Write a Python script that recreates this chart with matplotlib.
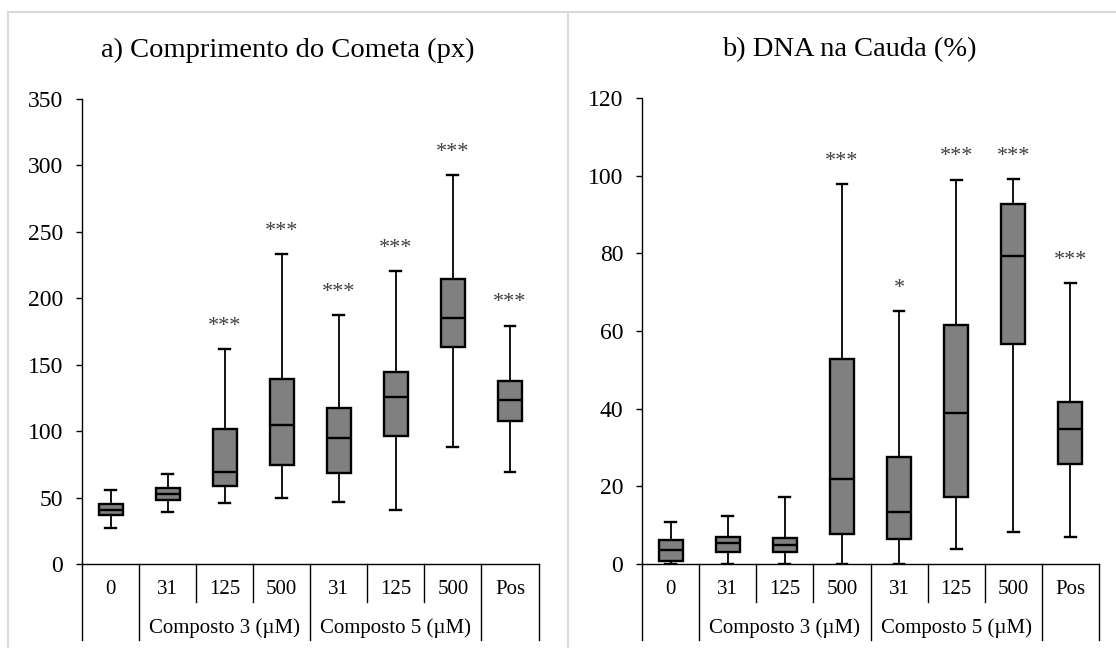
#!/usr/bin/env python3

import matplotlib
matplotlib.use("Agg")
import matplotlib.pyplot as plt
from matplotlib.lines import Line2D


# =========================
# Data
# =========================
categories = ["0", "31", "125", "500", "31", "125", "500", "Pos"]
group_labels = ["Composto 3 (µM)", "Composto 5 (µM)"]
group_spans = [(2, 4), (5, 7)]  # category positions covered by each group

# a) Comprimento do Cometa (px)
length_whislo = [27, 39, 46, 49.5, 46.5, 41, 88, 69]
length_q1 = [37, 48, 59, 74.5, 68.5, 96, 163, 108]
length_med = [41, 53, 69, 104.5, 95, 125.5, 185, 123.5]
length_q3 = [45, 57, 101.5, 139.5, 117.5, 144.5, 214.5, 137.5]
length_whishi = [55.5, 67.5, 161.5, 233.5, 187.5, 220.5, 292.5, 179.5]
length_stars = ["", "", "***", "***", "***", "***", "***", "***"]

# b) DNA na Cauda (%)
dna_whislo = [0, 0, 0, 0, 0, 3.8, 8.2, 7.0]
dna_q1 = [0.7, 3.2, 3.2, 7.8, 6.5, 17.3, 56.7, 25.8]
dna_med = [3.5, 5.4, 4.9, 22.0, 13.4, 39.0, 79.2, 34.8]
dna_q3 = [6.2, 7.0, 6.7, 52.7, 27.6, 61.5, 92.8, 41.6]
dna_whishi = [10.7, 12.4, 17.2, 97.9, 65.2, 99.0, 99.2, 72.3]
dna_stars = ["", "", "", "***", "*", "***", "***", "***"]

length_yticks = [0, 50, 100, 150, 200, 250, 300, 350]
dna_yticks = [0, 20, 40, 60, 80, 100, 120]


# =========================
# Helpers
# =========================
W, H = 1116, 648
FONT = "Liberation Serif"
BOX_COLOR = "#808080"
BORDER_COLOR = "#d9d9d9"


def px_rect(x0, y_top, x1, y_bottom):
    """Convert a pixel box (origin top-left) into figure fractions."""
    return [x0 / W, 1 - y_bottom / H, (x1 - x0) / W, (y_bottom - y_top) / H]


def make_stats(whislo, q1, med, q3, whishi):
    stats = []
    for lo, a, m, b, hi in zip(whislo, q1, med, q3, whishi):
        stats.append({"whislo": lo, "q1": a, "med": m, "q3": b,
                      "whishi": hi, "fliers": []})
    return stats


def draw_panel(ax, stats, stars, yticks, title, title_x):
    fig = ax.figure
    pos = list(range(1, len(stats) + 1))
    ax.bxp(
        stats, positions=pos, widths=0.42, capwidths=0.19,
        showfliers=False, patch_artist=True,
        boxprops=dict(facecolor=BOX_COLOR, edgecolor="black", linewidth=1.7),
        medianprops=dict(color="black", linewidth=1.7),
        whiskerprops=dict(color="black", linewidth=1.3),
        capprops=dict(color="black", linewidth=1.7),
    )

    # significance marks above the upper whisker
    for x, s, st in zip(pos, stats, stars):
        if st:
            ax.annotate(st, (x, s["whishi"]), xytext=(0, 13),
                        textcoords="offset points", ha="center",
                        va="baseline", fontsize=16, family=FONT,
                        color="#404040")

    ax.set_xlim(0.5, len(stats) + 0.5)
    ax.set_ylim(yticks[0], yticks[-1])
    ax.set_yticks(yticks)
    ax.set_yticklabels([str(t) for t in yticks], family=FONT, fontsize=17)
    ax.tick_params(axis="y", direction="out", length=4.5, width=1.0, pad=9)
    ax.set_xticks([])
    for side in ["top", "right"]:
        ax.spines[side].set_visible(False)
    for side in ["left", "bottom"]:
        ax.spines[side].set_linewidth(1.0)

    # two-level category axis drawn by hand
    ax_h = ax.get_position().height * H
    y_cat = -26 / ax_h
    y_grp = -64 / ax_h
    y_short = -38 / ax_h
    y_long = -76 / ax_h
    trans = ax.get_xaxis_transform()

    for x, lab in zip(pos, categories):
        ax.text(x, y_cat, lab, transform=trans, ha="center", va="center",
                family=FONT, fontsize=15)
    for lab, (a, b) in zip(group_labels, group_spans):
        ax.text((a + b) / 2, y_grp, lab, transform=trans, ha="center",
                va="center", family=FONT, fontsize=15)

    long_edges = {0.5, len(stats) + 0.5}
    for a, b in group_spans:
        long_edges.update({a - 0.5, b + 0.5})
    for i in range(len(stats) + 1):
        edge = 0.5 + i
        bottom = y_long if edge in long_edges else y_short
        ax.add_line(Line2D([edge, edge], [0, bottom], transform=trans,
                           color="black", linewidth=1.0, clip_on=False))

    fig.text(title_x / W, 1 - 50 / H, title, ha="center", va="center",
             family=FONT, fontsize=20.5)


# =========================
# Main
# =========================
def main():
    fig = plt.figure(figsize=(W / 100, H / 100), dpi=100)

    # light grey chart-area borders
    fig.add_artist(Line2D([8 / W, 1], [1 - 12 / H] * 2, color=BORDER_COLOR,
                          linewidth=1.5, transform=fig.transFigure))
    for xb in [8, 568]:
        fig.add_artist(Line2D([xb / W] * 2, [0, 1 - 12 / H],
                              color=BORDER_COLOR, linewidth=1.5,
                              transform=fig.transFigure))

    ax1 = fig.add_axes(px_rect(82, 99, 538.5, 564))
    draw_panel(ax1,
               make_stats(length_whislo, length_q1, length_med,
                          length_q3, length_whishi),
               length_stars, length_yticks,
               "a) Comprimento do Cometa (px)", 288)

    ax2 = fig.add_axes(px_rect(642, 98, 1099, 564))
    draw_panel(ax2,
               make_stats(dna_whislo, dna_q1, dna_med, dna_q3, dna_whishi),
               dna_stars, dna_yticks,
               "b) DNA na Cauda (%)", 849)

    fig.savefig("out.png", dpi=100)
    plt.close(fig)


if __name__ == "__main__":
    main()
